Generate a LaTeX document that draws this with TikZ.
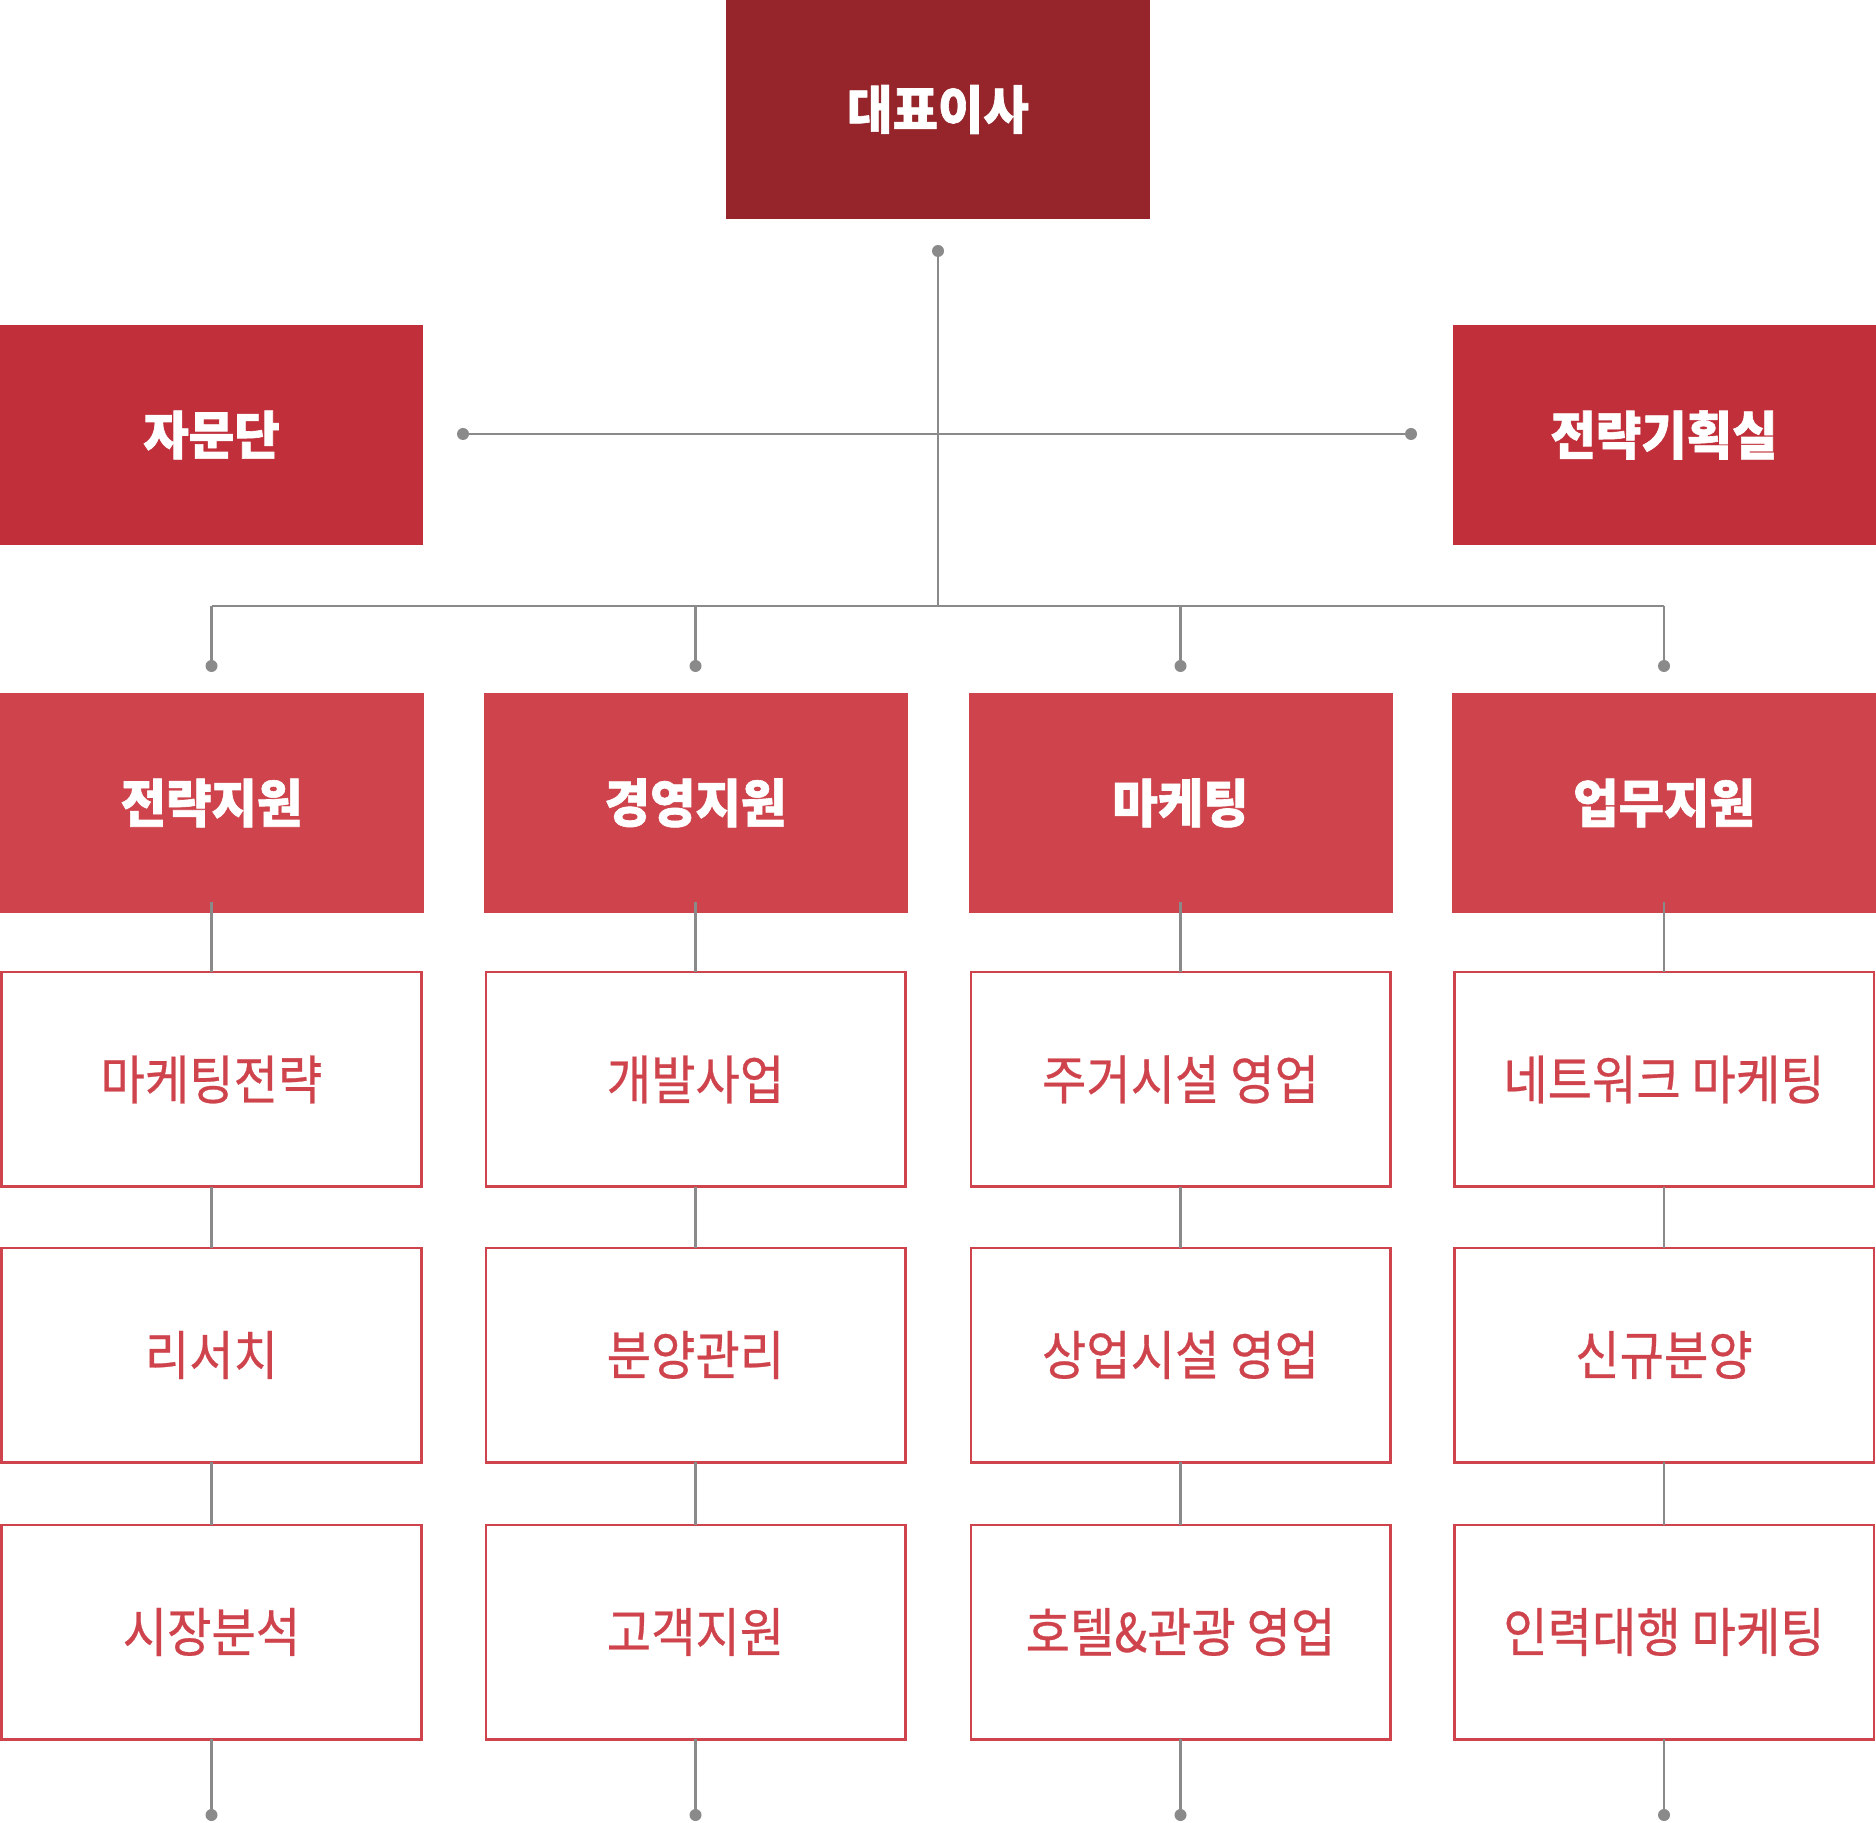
\documentclass[tikz,border=0pt]{standalone}
\usepackage{fontspec}
\newfontfamily\krfont{Noto Sans CJK KR}[FakeStretch=0.91, FakeBold=0.5]
\newfontfamily\krhead{Noto Sans CJK KR}[FakeStretch=0.95, BoldFeatures={FakeBold=1.2}]
\definecolor{topred}{HTML}{95242B}
\definecolor{midred}{HTML}{C1303A}
\definecolor{deptred}{HTML}{CF444C}
\definecolor{linegray}{HTML}{8A8A8A}
\begin{document}
\begin{tikzpicture}[x=0.5pt,y=-0.5pt,
  base/.style={rectangle, inner sep=0pt, outer sep=0pt, align=center},
  headfont/.style={font=\krhead\bfseries\fontsize{26}{30}\selectfont},
  topbox/.style={base, headfont, fill=topred, text=white, minimum width=212pt, minimum height=109.5pt},
  sidebox/.style={base, headfont, fill=midred, text=white, minimum width=211.5pt, minimum height=110pt},
  deptbox/.style={base, headfont, fill=deptred, text=white, minimum width=212pt, minimum height=110pt},
  teambox/.style={base, draw=deptred, line width=1.25pt, fill=white, text=deptred, font=\krfont\fontsize{26.5}{30}\selectfont, minimum width=209.75pt, minimum height=107.25pt},
  conn/.style={draw=linegray, line width=1.1pt},
  dot/.style={fill=linegray}
]
\useasboundingbox (0,0) rectangle (1876,1823);

% nodes
\node[topbox] (ceo) at (938,109.5) {대표이사};
\node[sidebox] (adv) at (211.5,435) {자문단};
\node[sidebox] (plan) at (1664,435) {전략기획실};

\node[deptbox] (d1) at (211.5,803) {전략지원};
\node[deptbox] (d2) at (695.5,803) {경영지원};
\node[deptbox] (d3) at (1180.5,803) {마케팅};
\node[deptbox] (d4) at (1664,803) {업무지원};

\node[teambox] (t11) at (211.5,1079.5) {마케팅전략};
\node[teambox] (t12) at (211.5,1355) {리서치};
\node[teambox] (t13) at (211.5,1632) {시장분석};
\node[teambox] (t21) at (695.5,1079.5) {개발사업};
\node[teambox] (t22) at (695.5,1355) {분양관리};
\node[teambox] (t23) at (695.5,1632) {고객지원};
\node[teambox] (t31) at (1180.5,1079.5) {주거시설 영업};
\node[teambox] (t32) at (1180.5,1355) {상업시설 영업};
\node[teambox] (t33) at (1180.5,1632) {호텔\&관광 영업};
\node[teambox] (t41) at (1664,1079.5) {네트워크 마케팅};
\node[teambox] (t42) at (1664,1355) {신규분양};
\node[teambox] (t43) at (1664,1632) {인력대행 마케팅};

% coordinates
\coordinate (topdot) at (938,251);
\coordinate (hub) at (938,606);
\coordinate (ldot) at (463,434);
\coordinate (rdot) at (1411,434);
\coordinate (b1) at (211.5,606);
\coordinate (b2) at (695.5,606);
\coordinate (b3) at (1180.5,606);
\coordinate (b4) at (1664,606);
\coordinate (p1) at (211.5,666);
\coordinate (p2) at (695.5,666);
\coordinate (p3) at (1180.5,666);
\coordinate (p4) at (1664,666);
\coordinate (e1) at (211.5,1815);
\coordinate (e2) at (695.5,1815);
\coordinate (e3) at (1180.5,1815);
\coordinate (e4) at (1664,1815);

% connectors
\draw[conn] (topdot) -- (hub);
\draw[conn] (ldot) -- (rdot);
\draw[conn] (b1) -- (b4);
\foreach \i in {1,2,3,4} {
  \draw[conn] (b\i) -- (p\i);
  \draw[conn, shorten <=-5.5pt] (d\i.south) -- (t\i1.north);
  \draw[conn] (t\i1.south) -- (t\i2.north);
  \draw[conn] (t\i2.south) -- (t\i3.north);
  \draw[conn] (t\i3.south) -- (e\i);
  \fill[dot] (p\i) circle (3pt);
  \fill[dot] (e\i) circle (3pt);
}
\fill[dot] (topdot) circle (3pt);
\fill[dot] (ldot) circle (3pt);
\fill[dot] (rdot) circle (3pt);
\end{tikzpicture}
\end{document}
